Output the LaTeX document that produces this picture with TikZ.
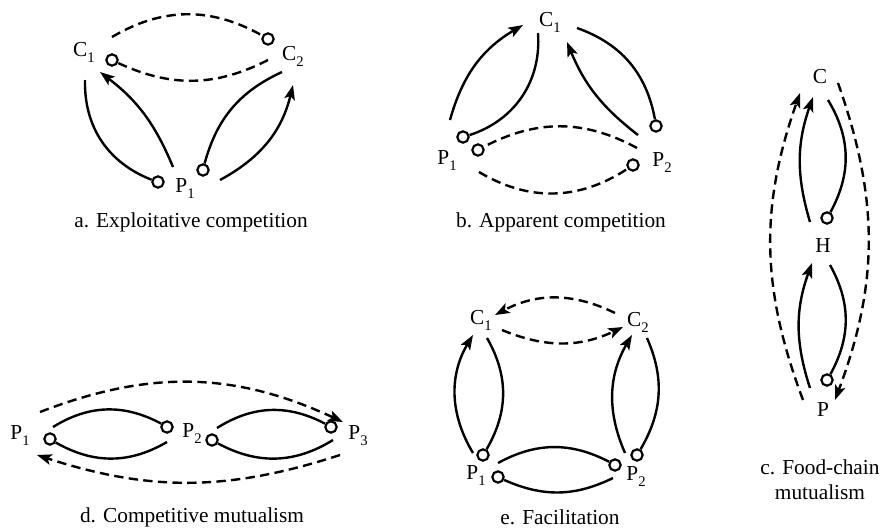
\documentclass[tikz,border=0pt]{standalone}
\usepackage{fontspec}
\setmainfont{Liberation Serif}
\usetikzlibrary{arrows.meta}
\newcommand{\ix}[1]{\raisebox{-4.5pt}{\fontsize{11}{11}\selectfont#1}}
\tikzset{
  link/.style={line width=1.8pt},
  indirect/.style={link,dash pattern=on 7pt off 4pt},
  gain/.style={-{Stealth[length=11pt,width=8pt,inset=2.5pt]}},
  dot/.style={circle,draw,line width=1.6pt,fill=white,inner sep=0pt,minimum size=8.5pt},
  lab/.style={font=\fontsize{16}{19}\selectfont,inner sep=0pt},
  caption/.style={font=\fontsize{16}{19}\selectfont,align=center,inner sep=0pt}
}

\begin{document}
\begin{tikzpicture}[x=0.75pt,y=0.75pt]
  \useasboundingbox (0,0) rectangle (886,-529);

  % a. exploitative competition
  \node[lab] (aC1) at (84,-52) {C\ix{1}};
  \node[lab] (aC2) at (293,-56) {C\ix{2}};
  \node[lab] (aP1) at (185,-189) {P\ix{1}};
  \node[dot] (aD1) at (112,-60) {};
  \node[dot] (aD2) at (268,-39) {};
  \node[dot] (aD3) at (158,-182) {};
  \node[dot] (aD4) at (203,-170) {};
  \coordinate (a1) at (112,-37);
  \coordinate (a2) at (268,-60);
  \coordinate (a3) at (85,-80);
  \coordinate (a4) at (173,-167);
  \coordinate (a5) at (100,-72);
  \coordinate (a6) at (282,-72);
  \coordinate (a7) at (220,-180);
  \coordinate (a8) at (293,-85);
  \draw[indirect] (a1) to[bend left=30] (aD2);
  \draw[indirect] (a2) to[bend left=26] (aD1);
  \draw[link] (a3) to[bend right=35] (aD3);
  \draw[link,gain] (a4) to[bend right=15] (a5);
  \draw[link] (a6) to[bend right=25] (aD4);
  \draw[link,gain] (a7) to[bend right=24] (a8);
  \node[caption] (acap) at (191,-222) {a. Exploitative competition};

  % b. apparent competition
  \node[lab] (bC1) at (550,-22) {C\ix{1}};
  \node[lab] (bP1) at (447,-161) {P\ix{1}};
  \node[lab] (bP2) at (662,-163) {P\ix{2}};
  \node[dot] (bD1) at (463,-137) {};
  \node[dot] (bD2) at (478,-150) {};
  \node[dot] (bD3) at (656,-126) {};
  \node[dot] (bD4) at (633,-165) {};
  \coordinate (b1) at (450,-120);
  \coordinate (b2) at (523,-25);
  \coordinate (b3) at (538,-33);
  \coordinate (b4) at (638,-135);
  \coordinate (b5) at (567,-42);
  \coordinate (b6) at (577,-28);
  \coordinate (b7) at (637,-148);
  \coordinate (b8) at (479,-172);
  \draw[link,gain] (b1) to[bend left=22] (b2);
  \draw[link] (b3) to[bend left=38] (bD1);
  \draw[link,gain] (b4) to[bend left=15] (b5);
  \draw[link] (b6) to[bend left=30] (bD3);
  \draw[indirect] (b7) to[bend right=28] (bD2);
  \draw[indirect] (b8) to[bend right=32] (bD4);
  \node[caption] (bcap) at (561,-222) {b. Apparent competition};

  % c. food-chain mutualism
  \node[lab] (cC) at (820,-77) {C};
  \node[lab] (cH) at (823,-246) {H};
  \node[lab] (cP) at (823,-410) {P};
  \node[dot] (cD1) at (827,-218) {};
  \node[dot] (cD2) at (827,-380) {};
  \coordinate (c1) at (810,-222);
  \coordinate (c2) at (813,-97);
  \coordinate (c3) at (828,-100);
  \coordinate (c4) at (810,-388);
  \coordinate (c5) at (812,-263);
  \coordinate (c6) at (830,-265);
  \coordinate (c7) at (803,-400);
  \coordinate (c8) at (800,-93);
  \coordinate (c9) at (838,-83);
  \coordinate (c10) at (835,-400);
  \draw[link,gain] (c1) to[bend left=18] (c2);
  \draw[link] (c3) to[bend left=30] (cD1);
  \draw[link,gain] (c4) to[bend left=19] (c5);
  \draw[link] (c6) to[bend left=29] (cD2);
  \draw[indirect,gain] (c7) to[bend left=20] (c8);
  \draw[indirect,gain] (c9) to[bend left=20] (c10);
  \node[caption] (ccap) at (820,-480) {c. Food-chain\\mutualism};

  % d. competitive mutualism
  \node[lab] (dP1) at (20,-436) {P\ix{1}};
  \node[lab] (dP2) at (192,-434) {P\ix{2}};
  \node[lab] (dP3) at (358,-436) {P\ix{3}};
  \node[dot] (dD1) at (50,-439) {};
  \node[dot] (dD2) at (167,-427) {};
  \node[dot] (dD3) at (212,-440) {};
  \node[dot] (dD4) at (331,-427) {};
  \coordinate (d1) at (53,-427);
  \coordinate (d2) at (167,-442);
  \coordinate (d3) at (217,-428);
  \coordinate (d4) at (333,-440);
  \coordinate (d5) at (40,-412);
  \coordinate (d6) at (343,-422);
  \coordinate (d7) at (340,-455);
  \coordinate (d8) at (37,-455);
  \draw[link] (d1) to[bend left=30] (dD2);
  \draw[link] (d2) to[bend left=30] (dD1);
  \draw[link] (d3) to[bend left=30] (dD4);
  \draw[link] (d4) to[bend left=30] (dD3);
  \draw[indirect,gain] (d5) to[bend left=23] (d6);
  \draw[indirect,gain] (d7) to[bend left=18] (d8);
  \node[caption] (dcap) at (192,-517) {d. Competitive mutualism};

  % e. facilitation
  \node[lab] (eC1) at (481,-320) {C\ix{1}};
  \node[lab] (eC2) at (638,-322) {C\ix{2}};
  \node[lab] (eP1) at (476,-476) {P\ix{1}};
  \node[lab] (eP2) at (636,-477) {P\ix{2}};
  \node[dot] (eD1) at (483,-455) {};
  \node[dot] (eD2) at (498,-477) {};
  \node[dot] (eD3) at (615,-465) {};
  \node[dot] (eD4) at (637,-455) {};
  \coordinate (e1) at (615,-313);
  \coordinate (e2) at (495,-315);
  \coordinate (e3) at (502,-330);
  \coordinate (e4) at (623,-327);
  \coordinate (e5) at (473,-453);
  \coordinate (e6) at (473,-335);
  \coordinate (e7) at (487,-338);
  \coordinate (e8) at (625,-453);
  \coordinate (e9) at (632,-335);
  \coordinate (e10) at (647,-338);
  \coordinate (e11) at (498,-463);
  \coordinate (e12) at (613,-478);
  \draw[indirect,gain] (e1) to[bend right=27] (e2);
  \draw[indirect,gain] (e3) to[bend right=24] (e4);
  \draw[link,gain] (e5) to[bend left=31] (e6);
  \draw[link] (e7) to[bend left=30] (eD1);
  \draw[link,gain] (e8) to[bend left=27] (e9);
  \draw[link] (e10) to[bend left=27] (eD4);
  \draw[link] (e11) to[bend left=28] (eD3);
  \draw[link] (e12) to[bend left=25] (eD2);
  \node[caption] (ecap) at (560,-517) {e. Facilitation};
\end{tikzpicture}
\end{document}
